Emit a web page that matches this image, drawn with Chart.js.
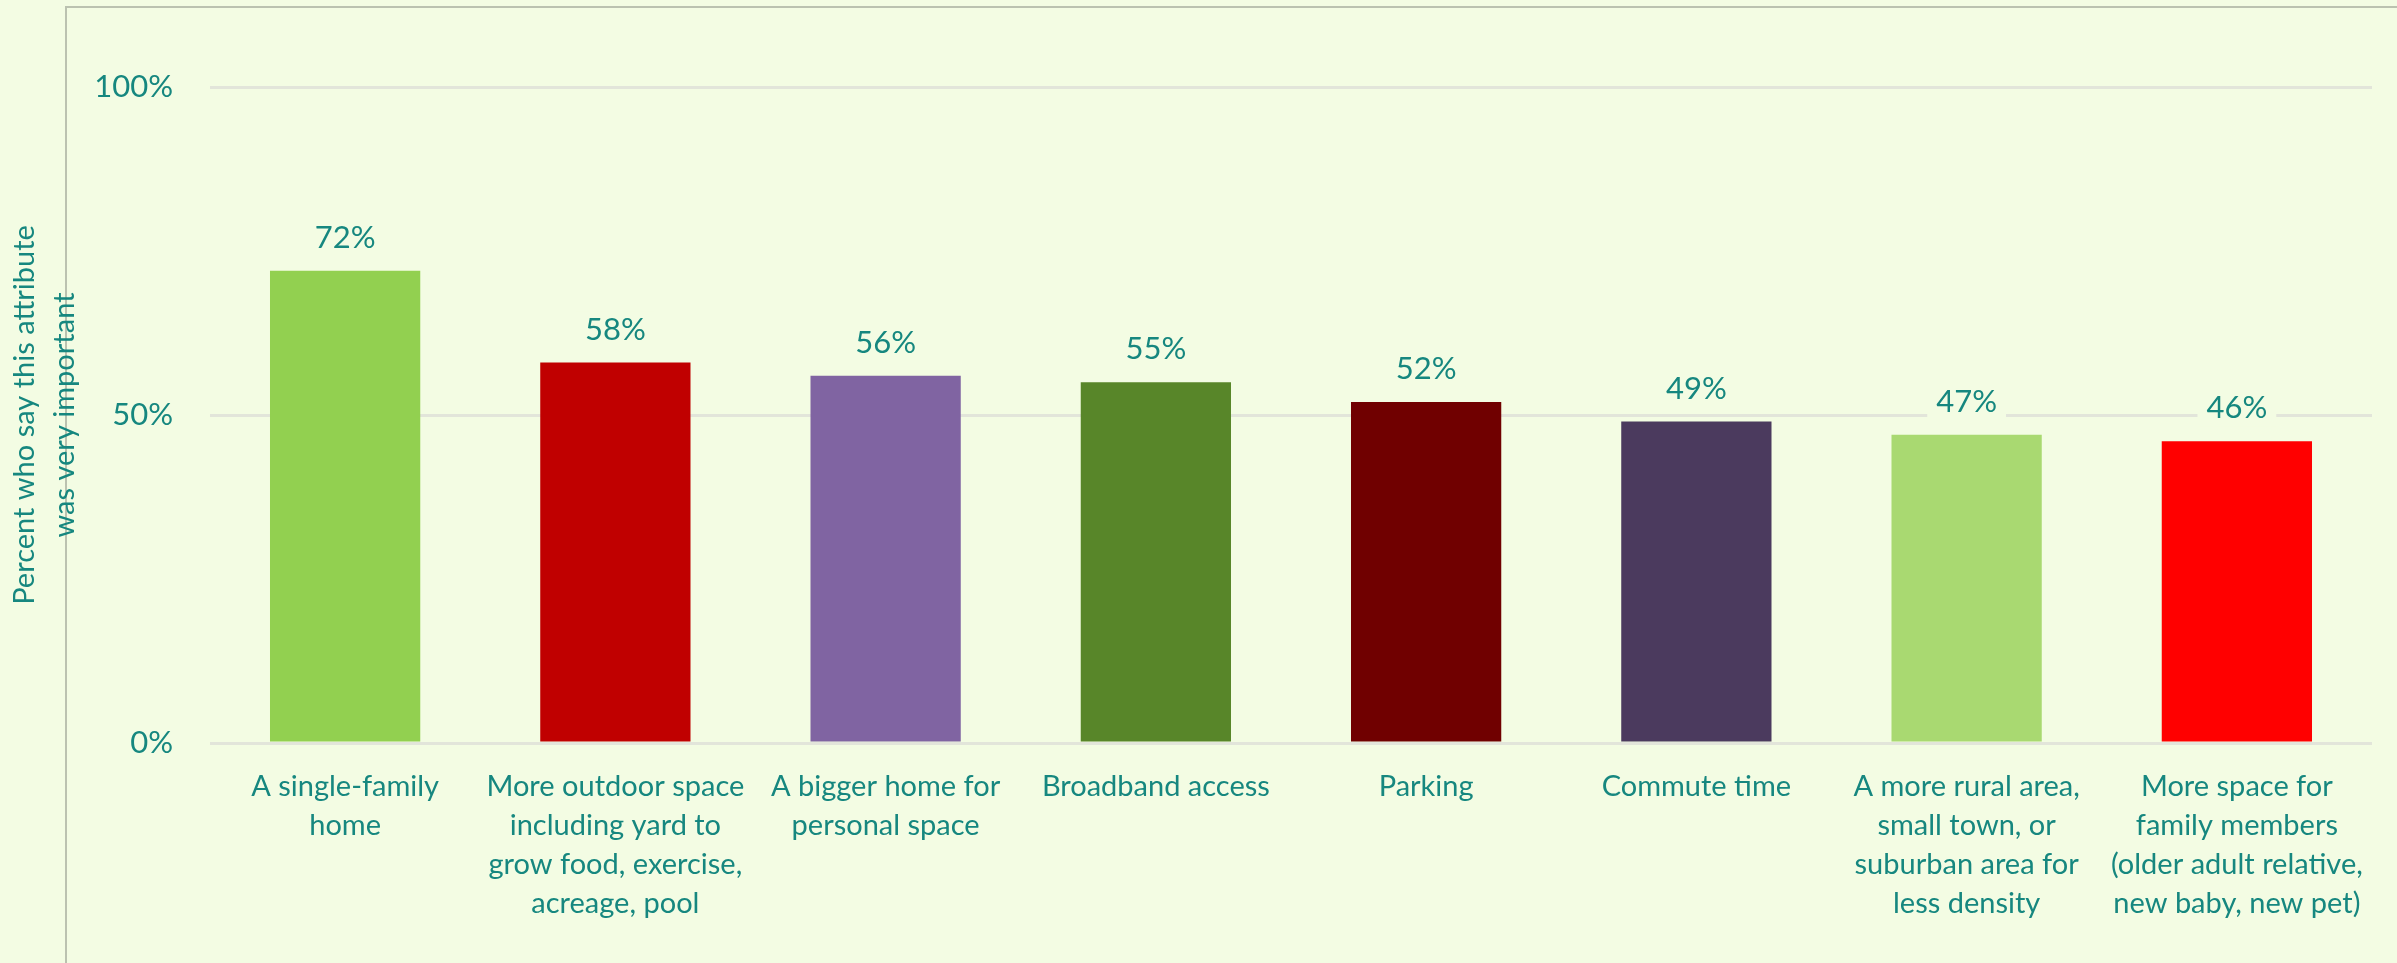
<!DOCTYPE html>
<html>
<head>
<meta charset="utf-8">
<script src="https://cdn.jsdelivr.net/npm/chart.js@4.4.1/dist/chart.umd.min.js"></script>
<style>
  html, body { margin: 0; padding: 0; background: #F3FCE3; }
  #wrap { position: relative; width: 2397px; height: 963px; overflow: hidden; }
  #frame {
    position: absolute; left: 65px; top: 6px; right: -10px; bottom: -10px;
    border-left: 2px solid #BBC2B0; border-top: 2px solid #BBC2B0;
  }
  #myChart { position: absolute; left: 0; top: 0; }
</style>
</head>
<body>
<div id="wrap">
  <div id="frame"></div>
  <canvas id="myChart" width="2397" height="963"></canvas>
</div>
<script>
const ctx = document.getElementById('myChart');

// attributes people looked for in their new home
const categories = [
  ['A single-family', 'home'],
  ['More outdoor space', 'including yard to', 'grow food, exercise,', 'acreage, pool'],
  ['A bigger home for', 'personal space'],
  ['Broadband access'],
  ['Parking'],
  ['Commute time'],
  ['A more rural area,', 'small town, or', 'suburban area for', 'less density'],
  ['More space for', 'family members', '(older adult relative,', 'new baby, new pet)']
];
const percents = [72, 58, 56, 55, 52, 49, 47, 46];
const barColors = ['#92D050', '#C00000', '#8064A2', '#588629', '#700000', '#4B3A5E', '#A9D971', '#FF0000'];
const yTicks = [0, 50, 100];
const axisTitle = ['Percent who say this attribute', 'was very important'];

const teal = '#16877F';
const bg = '#F3FCE3';
const fontFamily = 'Lato, "Open Sans", sans-serif';

// value labels above each bar, on a small box that hides the gridline
const barLabels = {
  id: 'barLabels',
  afterDatasetsDraw(chart) {
    const c = chart.ctx;
    const meta = chart.getDatasetMeta(0);
    c.save();
    c.font = '31px ' + fontFamily;
    c.textAlign = 'center';
    c.textBaseline = 'middle';
    meta.data.forEach((bar, i) => {
      const txt = percents[i] + '%';
      const w = c.measureText(txt).width + 18;
      const y = bar.y - 33;
      c.fillStyle = bg;
      c.fillRect(bar.x - w / 2, y - 18, w, 36);
      c.fillStyle = teal;
      c.fillText(txt, bar.x, y);
    });
    c.restore();
  }
};

new Chart(ctx, {
  type: 'bar',
  data: {
    labels: categories,
    datasets: [{
      data: percents,
      backgroundColor: barColors,
      borderWidth: 0,
      barPercentage: 0.556,
      categoryPercentage: 1
    }]
  },
  options: {
    responsive: false,
    animation: false,
    devicePixelRatio: 1,
    layout: { padding: { top: 87, right: 25, left: 0, bottom: 0 } },
    plugins: {
      legend: { display: false },
      tooltip: { enabled: false }
    },
    scales: {
      x: {
        grid: { display: false, drawTicks: false },
        border: { display: false },
        ticks: {
          color: teal,
          font: { family: fontFamily, size: 29, lineHeight: '39px' },
          padding: 24,
          maxRotation: 0,
          minRotation: 0,
          autoSkip: false
        },
        afterFit(scale) { scale.height = 220; }
      },
      y: {
        min: 0,
        max: 100,
        afterBuildTicks(scale) { scale.ticks = yTicks.map(v => ({ value: v })); },
        grid: { color: '#E2E5DA', lineWidth: 3, drawTicks: false },
        border: { display: false },
        ticks: {
          color: teal,
          font: { family: fontFamily, size: 31 },
          padding: 37,
          callback: v => v + '%'
        },
        title: {
          display: true,
          text: axisTitle,
          color: teal,
          font: { family: fontFamily, size: 29, lineHeight: '40px' },
          padding: { top: 5, bottom: 0 }
        },
        afterFit(scale) { scale.width = 210; }
      }
    }
  },
  plugins: [barLabels]
});
</script>
</body>
</html>
